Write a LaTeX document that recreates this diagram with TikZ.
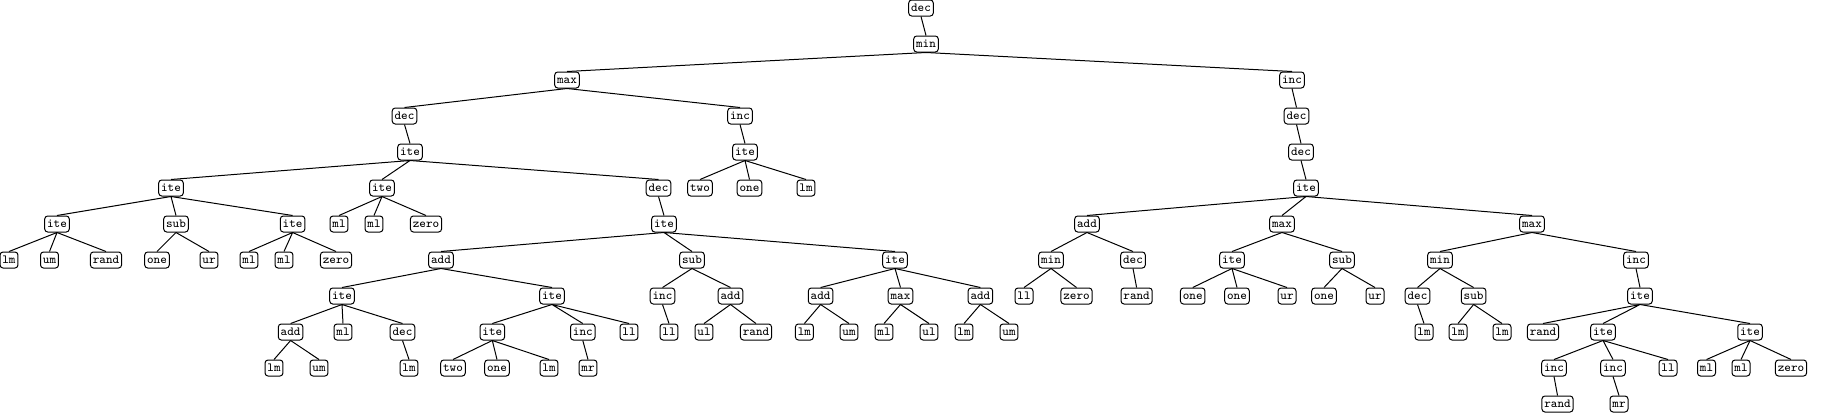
\documentclass[tikz,border=0pt]{standalone}
\usepackage{tikz}
\usetikzlibrary{
	positioning
}

\begin{document}
\begin{tikzpicture}[
		x = 0.5pt,
		y = -0.5pt,
		every node/.style={
			draw,
			rectangle,
			rounded corners = 1.5pt,
			line width = 0.5pt,
			inner xsep = 1.2pt,
			inner ysep = 0pt,
			minimum height = 8pt,
			text height = 4.4pt,
			text depth = 0.6pt,
			font = \ttfamily\fontsize{6.2}{7}\selectfont
		},
		branch/.style={
			draw,
			line width = 0.5pt}
		]
		\useasboundingbox (0,0) rectangle (1835,413);
		
		% level 0 - 2
		\node (t) at (921,8) {dec};
		\node (t1) at (926,44) {min};
		\node (t11) at (567,80) {max};
		\node (t12) at (1292,80) {inc};
		
		% level 3 - 5
		\node (t111) at (404.5,116) {dec};
		\node (t112) at (740,116) {inc};
		\node (t121) at (1296.5,116) {dec};
		\node (t1111) at (410,152) {ite};
		\node (t1121) at (745,152) {ite};
		\node (t1211) at (1301,152) {dec};
		\node (t11111) at (171,188) {ite};
		\node (t11112) at (382,188) {ite};
		\node (t11113) at (658.5,188) {dec};
		\node (t11211) at (700,188) {two};
		\node (t11212) at (749.5,188) {one};
		\node (t11213) at (806,188) {lm};
		\node (t12111) at (1306,188) {ite};
		
		% level 6
		\node (t111111) at (57,224) {ite};
		\node (t111112) at (176,224) {sub};
		\node (t111113) at (292.6,224) {ite};
		\node (t111121) at (339,224) {ml};
		\node (t111122) at (374,224) {ml};
		\node (t111123) at (426,224) {zero};
		\node (t111131) at (664,224) {ite};
		\node (t121111) at (1087,224) {add};
		\node (t121112) at (1282,224) {max};
		\node (t121113) at (1532,224) {max};
		
		% level 7
		\node (t1111111) at (9,260) {lm};
		\node (t1111112) at (49.5,260) {um};
		\node (t1111113) at (106,260) {rand};
		\node (t1111121) at (157,260) {one};
		\node (t1111122) at (209,260) {ur};
		\node (t1111131) at (249,260) {ml};
		\node (t1111132) at (284,260) {ml};
		\node (t1111133) at (336,260) {zero};
		\node (t1111311) at (441,260) {add};
		\node (t1111312) at (692,260) {sub};
		\node (t1111313) at (895,260) {ite};
		\node (t1211111) at (1051,260) {min};
		\node (t1211112) at (1133,260) {dec};
		\node (t1211121) at (1232,260) {ite};
		\node (t1211122) at (1342,260) {sub};
		\node (t1211131) at (1440,260) {min};
		\node (t1211132) at (1636,260) {inc};
		
		% level 8
		\node (t11113111) at (342,296) {ite};
		\node (t11113112) at (552,296) {ite};
		\node (t11113121) at (662.5,296) {inc};
		\node (t11113122) at (730.5,296) {add};
		\node (t11113131) at (820.6,296) {add};
		\node (t11113132) at (900.5,296) {max};
		\node (t11113133) at (980.4,296) {add};
		\node (t12111111) at (1024,296) {ll};
		\node (t12111112) at (1076.5,296) {zero};
		\node (t12111121) at (1136.6,296) {rand};
		\node (t12111211) at (1192.7,296) {one};
		\node (t12111212) at (1237,296) {one};
		\node (t12111213) at (1287,296) {ur};
		\node (t12111221) at (1324,296) {one};
		\node (t12111222) at (1375,296) {ur};
		\node (t12111311) at (1417.5,296) {dec};
		\node (t12111312) at (1473.6,296) {sub};
		\node (t12111321) at (1640,296) {ite};
		
		% level 9
		\node (t111131111) at (290.6,332) {add};
		\node (t111131112) at (343,332) {ml};
		\node (t111131113) at (402.5,332) {dec};
		\node (t111131121) at (492.3,332) {ite};
		\node (t111131122) at (582.8,332) {inc};
		\node (t111131123) at (629,332) {ll};
		\node (t111131211) at (669,332) {ll};
		\node (t111131221) at (704,332) {ul};
		\node (t111131222) at (756,332) {rand};
		\node (t111131311) at (804.4,332) {lm};
		\node (t111131312) at (849,332) {um};
		\node (t111131321) at (884,332) {ml};
		\node (t111131322) at (929,332) {ul};
		\node (t111131331) at (964,332) {lm};
		\node (t111131332) at (1009,332) {um};
		\node (t121113111) at (1424,332) {lm};
		\node (t121113121) at (1458,332) {lm};
		\node (t121113122) at (1502,332) {lm};
		\node (t121113211) at (1543,332) {rand};
		\node (t121113212) at (1603,332) {ite};
		\node (t121113213) at (1750,332) {ite};
		
		% level 10 - 11
		\node (t1111311111) at (274,368) {lm};
		\node (t1111311112) at (319,368) {um};
		\node (t1111311131) at (409,368) {lm};
		\node (t1111311211) at (453,368) {two};
		\node (t1111311212) at (497,368) {one};
		\node (t1111311213) at (549,368) {lm};
		\node (t1111311221) at (588,368) {mr};
		\node (t1211132121) at (1554,368) {inc};
		\node (t1211132122) at (1613,368) {inc};
		\node (t1211132123) at (1668,368) {ll};
		\node (t1211132131) at (1706.5,368) {ml};
		\node (t1211132132) at (1741,368) {ml};
		\node (t1211132133) at (1791,368) {zero};
		\node (t12111321211) at (1557.5,404) {rand};
		\node (t12111321221) at (1619,404) {mr};
		
		% branches
		\draw[branch] (t.south) -- (t1.north);
		\draw[branch] (t1.south) -- (t11.north) (t1.south) -- (t12.north);
		\draw[branch] (t11.south) -- (t111.north) (t11.south) -- (t112.north);
		\draw[branch] (t12.south) -- (t121.north);
		\draw[branch] (t111.south) -- (t1111.north);
		\draw[branch] (t112.south) -- (t1121.north);
		\draw[branch] (t121.south) -- (t1211.north);
		\draw[branch] (t1111.south) -- (t11111.north) (t1111.south) -- (t11112.north) (t1111.south) -- (t11113.north);
		\draw[branch] (t1121.south) -- (t11211.north) (t1121.south) -- (t11212.north) (t1121.south) -- (t11213.north);
		\draw[branch] (t1211.south) -- (t12111.north);
		\draw[branch] (t11111.south) -- (t111111.north) (t11111.south) -- (t111112.north) (t11111.south) -- (t111113.north);
		\draw[branch] (t11112.south) -- (t111121.north) (t11112.south) -- (t111122.north) (t11112.south) -- (t111123.north);
		\draw[branch] (t11113.south) -- (t111131.north);
		\draw[branch] (t12111.south) -- (t121111.north) (t12111.south) -- (t121112.north) (t12111.south) -- (t121113.north);
		\draw[branch] (t111111.south) -- (t1111111.north) (t111111.south) -- (t1111112.north) (t111111.south) -- (t1111113.north);
		\draw[branch] (t111112.south) -- (t1111121.north) (t111112.south) -- (t1111122.north);
		\draw[branch] (t111113.south) -- (t1111131.north) (t111113.south) -- (t1111132.north) (t111113.south) -- (t1111133.north);
		\draw[branch] (t111131.south) -- (t1111311.north) (t111131.south) -- (t1111312.north) (t111131.south) -- (t1111313.north);
		\draw[branch] (t121111.south) -- (t1211111.north) (t121111.south) -- (t1211112.north);
		\draw[branch] (t121112.south) -- (t1211121.north) (t121112.south) -- (t1211122.north);
		\draw[branch] (t121113.south) -- (t1211131.north) (t121113.south) -- (t1211132.north);
		\draw[branch] (t1111311.south) -- (t11113111.north) (t1111311.south) -- (t11113112.north);
		\draw[branch] (t1111312.south) -- (t11113121.north) (t1111312.south) -- (t11113122.north);
		\draw[branch] (t1111313.south) -- (t11113131.north) (t1111313.south) -- (t11113132.north) (t1111313.south) -- (t11113133.north);
		\draw[branch] (t1211111.south) -- (t12111111.north) (t1211111.south) -- (t12111112.north);
		\draw[branch] (t1211112.south) -- (t12111121.north);
		\draw[branch] (t1211121.south) -- (t12111211.north) (t1211121.south) -- (t12111212.north) (t1211121.south) -- (t12111213.north);
		\draw[branch] (t1211122.south) -- (t12111221.north) (t1211122.south) -- (t12111222.north);
		\draw[branch] (t1211131.south) -- (t12111311.north) (t1211131.south) -- (t12111312.north);
		\draw[branch] (t1211132.south) -- (t12111321.north);
		\draw[branch] (t11113111.south) -- (t111131111.north) (t11113111.south) -- (t111131112.north) (t11113111.south) -- (t111131113.north);
		\draw[branch] (t11113112.south) -- (t111131121.north) (t11113112.south) -- (t111131122.north) (t11113112.south) -- (t111131123.north);
		\draw[branch] (t11113121.south) -- (t111131211.north);
		\draw[branch] (t11113122.south) -- (t111131221.north) (t11113122.south) -- (t111131222.north);
		\draw[branch] (t11113131.south) -- (t111131311.north) (t11113131.south) -- (t111131312.north);
		\draw[branch] (t11113132.south) -- (t111131321.north) (t11113132.south) -- (t111131322.north);
		\draw[branch] (t11113133.south) -- (t111131331.north) (t11113133.south) -- (t111131332.north);
		\draw[branch] (t12111311.south) -- (t121113111.north);
		\draw[branch] (t12111312.south) -- (t121113121.north) (t12111312.south) -- (t121113122.north);
		\draw[branch] (t12111321.south) -- (t121113211.north) (t12111321.south) -- (t121113212.north) (t12111321.south) -- (t121113213.north);
		\draw[branch] (t111131111.south) -- (t1111311111.north) (t111131111.south) -- (t1111311112.north);
		\draw[branch] (t111131113.south) -- (t1111311131.north);
		\draw[branch] (t111131121.south) -- (t1111311211.north) (t111131121.south) -- (t1111311212.north) (t111131121.south) -- (t1111311213.north);
		\draw[branch] (t111131122.south) -- (t1111311221.north);
		\draw[branch] (t121113212.south) -- (t1211132121.north) (t121113212.south) -- (t1211132122.north) (t121113212.south) -- (t1211132123.north);
		\draw[branch] (t121113213.south) -- (t1211132131.north) (t121113213.south) -- (t1211132132.north) (t121113213.south) -- (t1211132133.north);
		\draw[branch] (t1211132121.south) -- (t12111321211.north);
		\draw[branch] (t1211132122.south) -- (t12111321221.north);
	\end{tikzpicture}
\end{document}
